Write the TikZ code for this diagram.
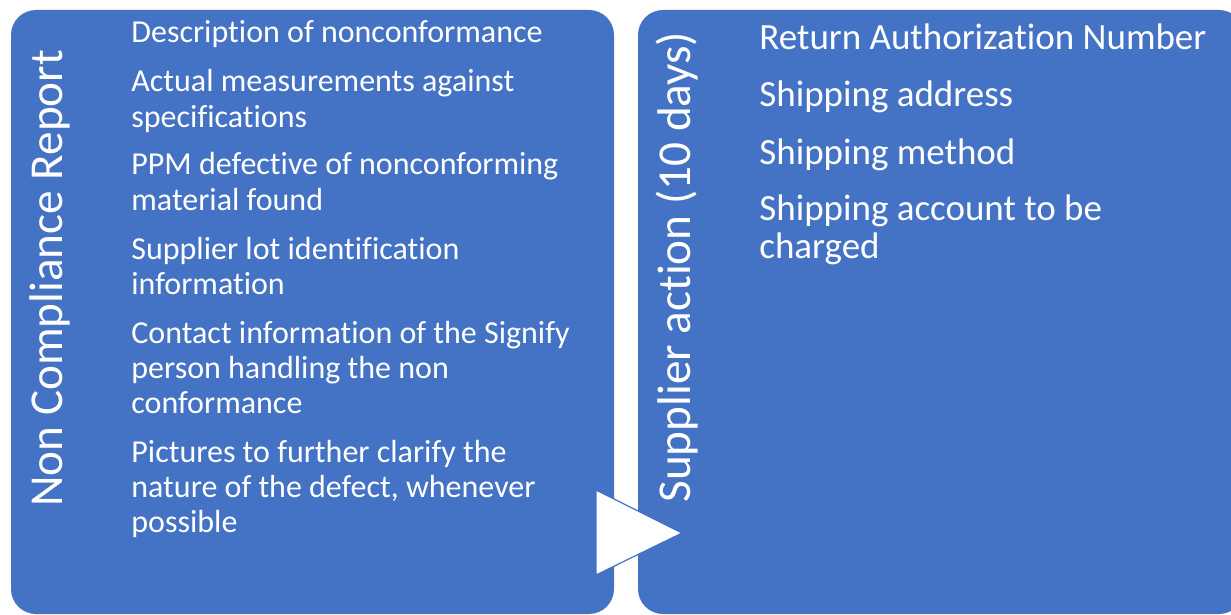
\documentclass[tikz,border=0pt]{standalone}
\usepackage{fontspec}
\setmainfont{Carlito}[Ligatures={NoCommon}]
\usepackage{tikz}
\definecolor{boxblue}{HTML}{4472C4}

\begin{document}
\begin{tikzpicture}[x=0.5pt,y=-0.5pt,
  panel/.style={fill=boxblue,rounded corners=12.5pt},
  vtitle/.style={text=white,rotate=90,anchor=base west,inner sep=0pt,font=\fontsize{23.6}{26}\selectfont},
  litem/.style={text=white,anchor=base west,inner sep=0pt,align=left,font=\fontsize{16}{17.5}\selectfont},
  ritem/.style={text=white,anchor=base west,inner sep=0pt,align=left,font=\fontsize{18.5}{19}\selectfont}]
  \useasboundingbox (0,0) rectangle (1231,615);
  \clip (0,0) rectangle (1231,615);

  \fill[panel] (11,10) rectangle (614,614);
  \fill[panel] (638,10) rectangle (1244,614);

   \draw (62,507) node[vtitle] (ncr) {Non Compliance Report};
   \draw (131,43) node[litem] (desc) {Description of nonconformance};
   \draw (131,127) node[litem] (meas) {Actual measurements against\\specifications};
   \draw (131,210) node[litem] (ppm) {PPM defective of nonconforming\\material found};
   \draw (131,294) node[litem] (lot) {Supplier lot identification\\information};
   \draw (131,413) node[litem] (contact) {Contact information of the Signify\\person handling the non\\conformance};
   \draw (131,532) node[litem] (pics) {Pictures to further clarify the\\nature of the defect, whenever\\possible};

   \draw (690,503) node[vtitle] (supp) {Supplier action (10 days)};
   \draw (759,50) node[ritem] (rma) {Return Authorization Number};
   \draw (759,107) node[ritem] (addr) {Shipping address};
   \draw (759,164) node[ritem] (meth) {Shipping method};
   \draw (759,258) node[ritem] (acct) {Shipping account to be\\charged};

  \draw[fill=white,draw=boxblue,line width=0.6pt] (596,490) -- (596,575) -- (682,533) -- cycle;
\end{tikzpicture}
\end{document}
